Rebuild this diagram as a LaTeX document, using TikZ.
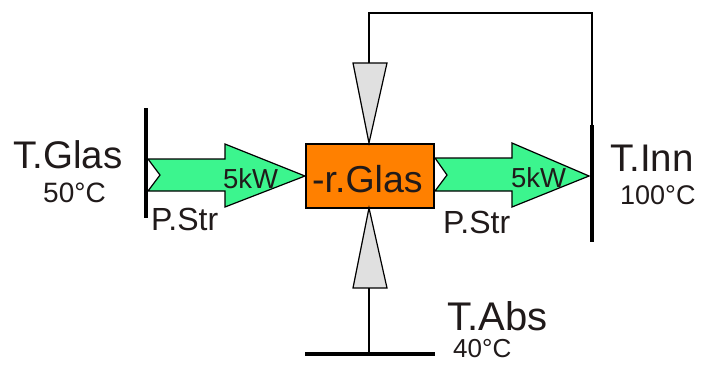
\documentclass[tikz,border=0pt]{standalone}
\usepackage{fontspec}
\setmainfont{Liberation Sans}
\definecolor{arrgreen}{HTML}{3CF58E}
\definecolor{boxorange}{HTML}{FF8000}
\definecolor{fungray}{HTML}{E0E0E0}
\definecolor{txt}{HTML}{201A1A}
\begin{document}
\begin{tikzpicture}[x=1pt,y=-1pt,
  big/.style={inner sep=0pt,anchor=base west,text=txt,font=\fontsize{38.5}{40}\selectfont},
  small/.style={inner sep=0pt,anchor=base west,text=txt,font=\fontsize{27}{30}\selectfont},
  flow/.style={draw=black,line width=1.2pt,fill=arrgreen,line join=miter},
  funnel/.style={draw=black,line width=1.2pt,fill=fungray},
  bar/.style={line width=4pt},
  wire/.style={line width=1.5pt}]
\useasboundingbox (0,0) rectangle (703,365);
% bars
\coordinate (lbt) at (146,108); \coordinate (lbb) at (146,218);
\coordinate (rbt) at (592,125); \coordinate (rbb) at (592,242);
\coordinate (bbl) at (305,354); \coordinate (bbr) at (435,354);
\coordinate (bbc) at (369,354);
\draw[bar] (lbt) -- (lbb);
\draw[bar] (rbt) -- (rbb);
\draw[bar] (bbl) -- (bbr);
% arrows
\draw[flow] (148,159) -- (225,159) -- (225,144) -- (305,176) -- (225,207) -- (225,191) -- (148,191) -- (160,175) -- cycle;
\draw[flow] (435,158) -- (512,158) -- (512,143) -- (589,176) -- (512,207) -- (512,191) -- (435,191) -- (447,175) -- cycle;
% box
\node[draw=black,line width=1.6pt,fill=boxorange,minimum width=128pt,minimum height=64pt,inner sep=0pt] (glas) at (370,176) {};
\node[big,font=\fontsize{37.5}{40}\selectfont] (glaslbl) at (312,192) {-r.Glas};
% funnels
\coordinate (ftop) at (369,63);
\coordinate (fbot) at (369,288);
\draw[funnel] (353,63) -- (387,63) -- (369,143) -- cycle;
\draw[funnel] (353,288) -- (387,288) -- (369,208) -- cycle;
\coordinate (c1) at (369,13);
\coordinate (c2) at (592,13);
\draw[wire] (ftop) -- (c1) -- (c2) -- (rbt);
\draw[wire] (fbot) -- (bbc);
% texts
\node[big] (tglas) at (13,168) {T.Glas};
\node[small,font=\fontsize{28}{30}\selectfont] (t50) at (43,202) {50°C};
\node[small,font=\fontsize{32}{34}\selectfont] (pstr1) at (151,230) {P.Str};
\node[small,font=\fontsize{27.5}{30}\selectfont] (kw1) at (223,188) {5kW};
\node[small,font=\fontsize{27.5}{30}\selectfont] (kw2) at (511,187) {5kW};
\node[small,font=\fontsize{32}{34}\selectfont] (pstr2) at (443,233) {P.Str};
\node[big] (tinn) at (610,171) {T.Inn};
\node[small] (t100) at (620,204) {100°C};
\node[big,font=\fontsize{40}{42}\selectfont] (tabs) at (447,330) {T.Abs};
\node[small,font=\fontsize{26}{28}\selectfont] (t40) at (453,357) {40°C};
\end{tikzpicture}
\end{document}
